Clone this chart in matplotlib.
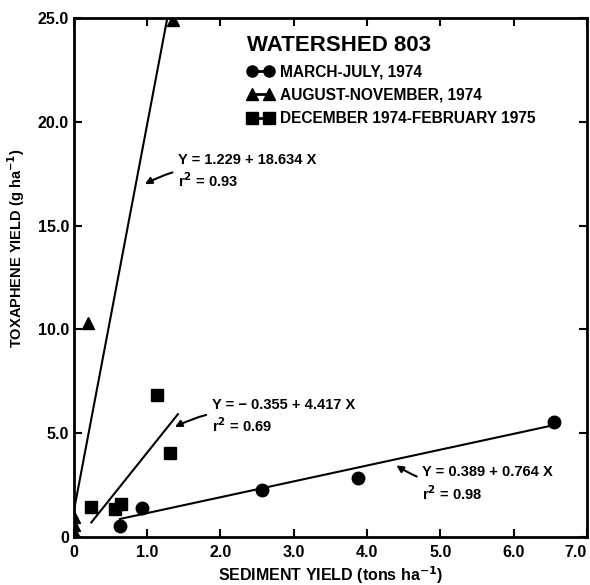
import numpy as np
import matplotlib.pyplot as plt
from matplotlib.lines import Line2D

plt.rcParams['font.family'] = ['Liberation Sans', 'DejaVu Sans']
plt.rcParams['font.weight'] = 'bold'

# marzo-julio 1974 (circulos)
mar_x = [0.63, 0.93, 2.57, 3.87, 6.55]
mar_y = [0.55, 1.4, 2.25, 2.85, 5.55]
# agosto-noviembre 1974 (triangulos)
aug_x = [0.0, 0.0, 0.0, 0.2, 1.36]
aug_y = [0.25, 0.6, 0.95, 10.3, 24.9]
# diciembre 1974 - febrero 1975 (cuadrados)
dec_x = [0.24, 0.56, 0.65, 1.13, 1.31]
dec_y = [1.45, 1.35, 1.6, 6.85, 4.05]

# rectas de regresion: (ordenada, pendiente, x inicial, x final)
fit_mar = (0.389, 0.764, 0.63, 6.55)
fit_aug = (1.229, 18.634, 0.0, (25 - 1.229) / 18.634)
fit_dec = (-0.355, 4.417, 0.24, 1.42)

xticks = [0, 1, 2, 3, 4, 5, 6, 7]
xlabels = ['0', '1.0', '2.0', '3.0', '4.0', '5.0', '6.0', '7.0']
yticks = [0, 5, 10, 15, 20, 25]
ylabels = ['0', '5.0', '10.0', '15.0', '20.0', '25.0']

fig = plt.figure(figsize=(5.9, 5.85), dpi=100)
ax = fig.add_axes([0.125, 0.082, 0.87, 0.887])

for b, m, x0, x1 in [fit_mar, fit_aug, fit_dec]:
    xx = np.array([x0, x1])
    ax.plot(xx, b + m * xx, color='black', linewidth=1.5)

ax.plot(mar_x, mar_y, 'o', color='black', markersize=9)
ax.plot(aug_x, aug_y, '^', color='black', markersize=9)
ax.plot(dec_x, dec_y, 's', color='black', markersize=9)

ax.set_xlim(0, 7)
ax.set_ylim(0, 25)
ax.set_xticks(xticks)
ax.set_xticklabels(xlabels)
ax.set_yticks(yticks)
ax.set_yticklabels(ylabels)
ax.tick_params(direction='in', length=6, width=1.5, labelsize=11.5,
               top=True, right=True)
ax.tick_params(axis='x', pad=6)
# el ultimo numero del eje x se alinea a la derecha para que no se corte
ax.get_xticklabels()[-1].set_horizontalalignment('right')
for s in ax.spines.values():
    s.set_linewidth(2)

ax.set_xlabel(u'SEDIMENT YIELD (tons ha$^{\\mathbf{-1}}$)', fontsize=11.5,
              fontweight='bold', labelpad=3)
ax.set_ylabel(u'TOXAPHENE YIELD (g ha$^{\\mathbf{-1}}$)', fontsize=10.5,
              fontweight='bold')
ax.yaxis.set_label_coords(-0.092, 0.557)

# anotaciones de las ecuaciones
arr = dict(arrowstyle='-|>', color='black', lw=1.5, mutation_scale=10,
           connectionstyle='arc3,rad=0.2', shrinkA=2, shrinkB=0)
ax.annotate(u'Y = 1.229 + 18.634 X\nr$^2$ = 0.93', xy=(0.97, 17.0),
            xytext=(1.42, 17.6), fontsize=10.5, fontweight='bold',
            va='center', ha='left', linespacing=1.3, arrowprops=arr)
ax.annotate(u'Y = \u2212 0.355 + 4.417 X\nr$^2$ = 0.69', xy=(1.38, 5.3),
            xytext=(1.88, 5.8), fontsize=10.5, fontweight='bold',
            va='center', ha='left', linespacing=1.3, arrowprops=arr)
ax.annotate(u'Y = 0.389 + 0.764 X\nr$^2$ = 0.98', xy=(4.4, 3.45),
            xytext=(4.75, 2.55), fontsize=10.5, fontweight='bold',
            va='center', ha='left', linespacing=1.3,
            arrowprops=dict(arr, connectionstyle='arc3,rad=-0.2'))

handles = [Line2D([], [], color='black', marker='o', markersize=8, lw=2),
           Line2D([], [], color='black', marker='^', markersize=8, lw=2),
           Line2D([], [], color='black', marker='s', markersize=8, lw=2)]
labels = ['MARCH-JULY, 1974', 'AUGUST-NOVEMBER, 1974',
          'DECEMBER 1974-FEBRUARY 1975']
leg = ax.legend(handles, labels, loc='upper left', bbox_to_anchor=(0.31, 0.995),
                numpoints=2, handlelength=1.7, handletextpad=0.4,
                labelspacing=0.55, frameon=False, fontsize=11.2,
                title='WATERSHED 803', alignment='left')
leg.get_title().set_fontsize(16)
leg.get_title().set_fontweight('bold')

fig.savefig('out.png', dpi=100)
